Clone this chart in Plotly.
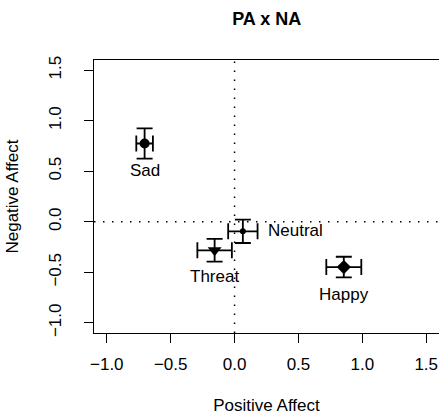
import plotly.graph_objects as go

# data
conditions = ["Sad", "Neutral", "Threat", "Happy"]
pa_mean = [-0.704, 0.065, -0.156, 0.855]
na_mean = [0.774, -0.094, -0.282, -0.448]
pa_err = [0.065, 0.115, 0.135, 0.137]
na_err = [0.149, 0.116, 0.112, 0.102]
symbols = ["circle", "circle", "triangle-down", "diamond"]
sizes = [10, 0, 12, 11]
x_ticks = [-1.0, -0.5, 0.0, 0.5, 1.0, 1.5]
y_ticks = [-1.0, -0.5, 0.0, 0.5, 1.0, 1.5]

FONT = "Liberation Sans, Arial, Helvetica, sans-serif"

fig = go.Figure()
for i, c in enumerate(conditions):
    fig.add_trace(go.Scatter(
        x=[pa_mean[i]], y=[na_mean[i]], mode="markers",
        marker=dict(symbol=symbols[i], size=sizes[i], color="black",
                    line=dict(width=0)),
        error_x=dict(type="data", array=[pa_err[i]], color="black",
                     thickness=1.8, width=8),
        error_y=dict(type="data", array=[na_err[i]], color="black",
                     thickness=1.8, width=8),
        showlegend=False, hoverinfo="skip",
    ))

# reference lines
fig.add_shape(type="line", xref="x", yref="paper", x0=0, x1=0, y0=0, y1=1,
              line=dict(color="black", width=1.5, dash="1.5px,7.5px"), layer="below")
fig.add_shape(type="line", xref="paper", yref="y", x0=0, x1=1, y0=0, y1=0,
              line=dict(color="black", width=1.5, dash="1.5px,7.5px"), layer="below")

# point labels
label_pos = {
    "Sad": dict(xshift=0, yshift=-27, xanchor="center"),
    "Neutral": dict(xshift=23, yshift=1, xanchor="left"),
    "Threat": dict(xshift=0, yshift=-26, xanchor="center"),
    "Happy": dict(xshift=0, yshift=-27, xanchor="center"),
}
for i, c in enumerate(conditions):
    p = label_pos[c]
    fig.add_annotation(x=pa_mean[i], y=na_mean[i], text=c, showarrow=False,
                       xanchor=p["xanchor"], yanchor="middle",
                       xshift=p["xshift"], yshift=p["yshift"],
                       font=dict(family=FONT, size=17, color="black"))

axis_common = dict(
    showgrid=False, zeroline=False, showline=True, linecolor="black",
    linewidth=1.3, ticks="outside", ticklen=9, tickwidth=1.3,
    tickcolor="black", tickfont=dict(family=FONT, size=17, color="black"),
)

fig.update_layout(
    width=439, height=419, autosize=False,
    margin=dict(l=94, r=0, t=60, b=86),
    paper_bgcolor="white", plot_bgcolor="white",
    title=dict(text="<b>PA x NA</b>", x=(94 + 439.3) / 2 / 439, xanchor="center",
               y=1 - 19 / 419, yanchor="middle", yref="container",
               font=dict(family=FONT, size=18, color="black")),
    xaxis=dict(range=[-1.1, 1.6], tickvals=x_ticks,
               ticktext=[f"{v:.1f}".replace("-", "\u2212") for v in x_ticks],
               mirror=True, ticklabelstandoff=6,
               title=dict(text="Positive Affect", standoff=26,
                          font=dict(family=FONT, size=17, color="black")),
               **axis_common),
    yaxis=dict(range=[-1.1, 1.6], tickvals=y_ticks,
               ticktext=[f"{v:.1f}".replace("-", "\u2212") for v in y_ticks],
               tickangle=-90, mirror=False, ticklabelstandoff=16,
               title=dict(text="Negative Affect", standoff=23,
                          font=dict(family=FONT, size=17, color="black")),
               **axis_common),
)

fig.write_html("out.html")
